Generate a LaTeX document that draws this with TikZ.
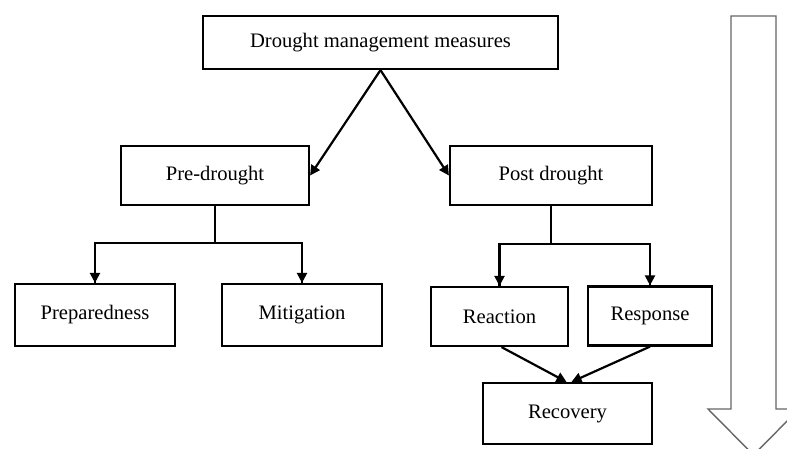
\documentclass[tikz,border=0pt]{standalone}
\usepackage{fontspec}
\setmainfont{Liberation Serif}
\usetikzlibrary{arrows.meta}
\begin{document}
\begin{tikzpicture}[x=1pt,y=-1pt,
  box/.style={draw=black,line width=2.2pt,rectangle,inner sep=0pt,font=\fontsize{20.6}{24}\selectfont},
  conn/.style={line width=2.2pt,-{Triangle[length=10pt,width=10pt]}},
  plain/.style={line width=2.2pt},
  bigarrow/.style={draw=black!60,line width=1.4pt,fill=white}]
\useasboundingbox (0,0) rectangle (787,449);
\clip (0,0) rectangle (787,449);
\node[box,minimum width=355pt,minimum height=53pt] (top) at (380.5,42.5) {Drought management measures};
\node[box,minimum width=188pt,minimum height=59pt] (pre) at (215,175.5) {Pre-drought};
\node[box,minimum width=202pt,minimum height=59pt] (post) at (551,175.5) {Post drought};
\node[box,minimum width=160pt,minimum height=62pt] (prep) at (95,315) {Preparedness};
\node[box,minimum width=160pt,minimum height=62pt] (mit) at (302,315) {Mitigation};
\node[box,minimum width=137pt,minimum height=59pt] (rea) at (499.5,316.5) {Reaction};
\node[box,minimum width=124pt,minimum height=59pt] (res) at (650,316) {Response};
\node[box,minimum width=169pt,minimum height=61pt] (rec) at (567.5,413.5) {Recovery};
\draw[conn] (top.south) -- (pre.east);
\draw[conn] (top.south) -- (post.west);
\coordinate (pj) at (215,243);
\coordinate (qj) at (551,244);
\draw[plain] (pre.south) -- (pj);
\draw[plain] (pj) -| (prep.north);
\draw[conn] (prep.north |- pj) -- (prep.north);
\draw[plain] (pj) -| (mit.north);
\draw[conn] (mit.north |- pj) -- (mit.north);
\draw[plain] (post.south) -- (qj);
\draw[plain] (qj) -| (rea.north);
\draw[conn] (rea.north |- qj) -- (rea.north);
\draw[plain] (qj) -| (res.north);
\draw[conn] (res.north |- qj) -- (res.north);
\draw[conn] ([xshift=2pt]rea.south) -- ([xshift=-1pt]rec.north);
\draw[conn] (res.south) -- ([xshift=4pt]rec.north);
\coordinate (a1) at (731,16);
\coordinate (a2) at (776,16);
\coordinate (a3) at (776,409);
\coordinate (a4) at (799,409);
\coordinate (a5) at (753.5,455);
\coordinate (a6) at (708,409);
\coordinate (a7) at (731,409);
\draw[bigarrow] (a1) -- (a2) -- (a3) -- (a4) -- (a5) -- (a6) -- (a7) -- cycle;
\end{tikzpicture}
\end{document}
